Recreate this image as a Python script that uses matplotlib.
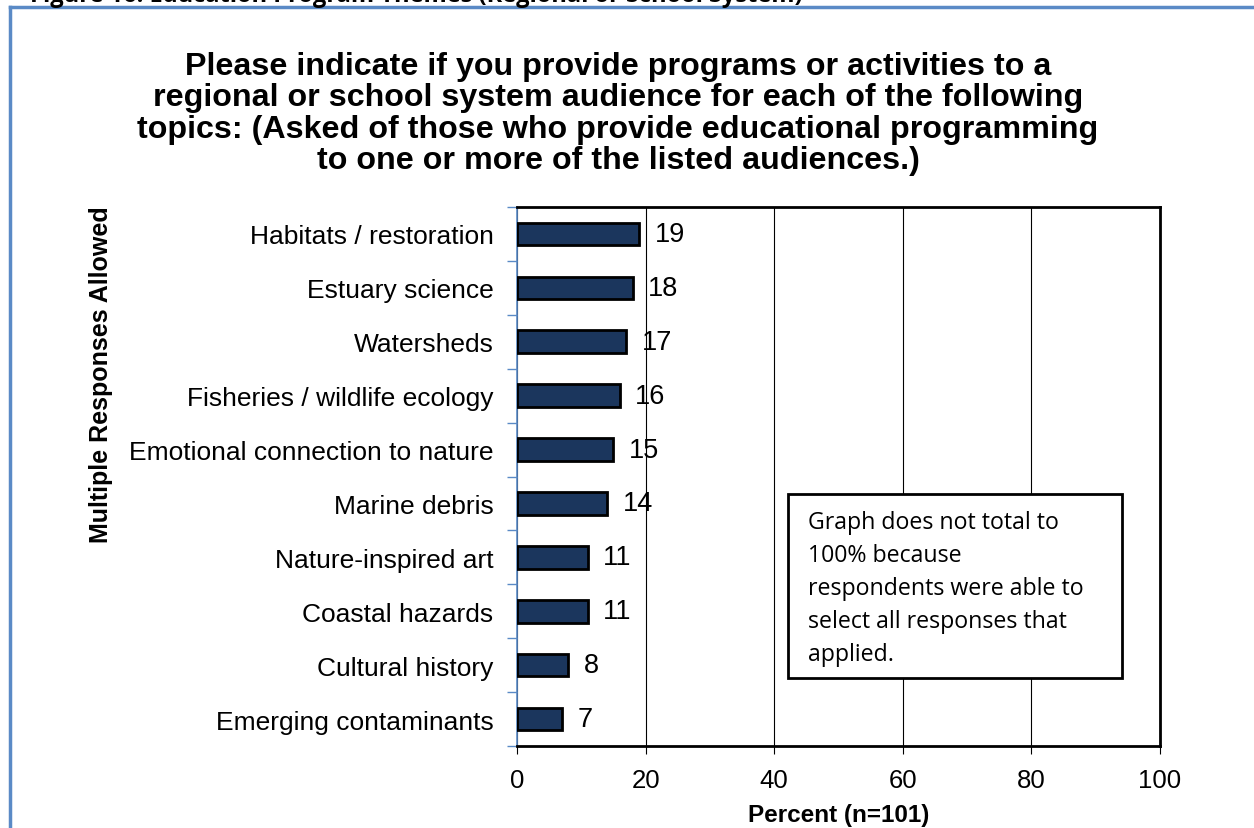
"""Education program topics, regional / school system audience (horizontal bar chart)."""

import matplotlib

matplotlib.use("Agg")
import matplotlib.pyplot as plt
from matplotlib.patches import Rectangle
from matplotlib.lines import Line2D

categories = [
    "Habitats / restoration",
    "Estuary science",
    "Watersheds",
    "Fisheries / wildlife ecology",
    "Emotional connection to nature",
    "Marine debris",
    "Nature-inspired art",
    "Coastal hazards",
    "Cultural history",
    "Emerging contaminants",
]
percents = [19, 18, 17, 16, 15, 14, 11, 11, 8, 7]
x_ticks = [0, 20, 40, 60, 80, 100]

title = ("Please indicate if you provide programs or activities to a\n"
         "regional or school system audience for each of the following\n"
         "topics: (Asked of those who provide educational programming\n"
         "to one or more of the listed audiences.)")
note = ("Graph does not total to\n100% because\nrespondents were able to\n"
        "select all responses that\napplied.")

plt.rcParams["font.family"] = ["Liberation Sans", "DejaVu Sans"]
BLUE = "#5A8AC6"
NAVY = "#1B365D"

fig = plt.figure(figsize=(12.54, 8.29), dpi=100)
ax = fig.add_axes([517 / 1254, 1 - 747 / 829, 643 / 1254, 539 / 829])

y = list(range(len(categories)))
ax.barh(y, percents, height=0.42, color=NAVY, edgecolor="black", linewidth=2, zorder=3)
for yi, v in zip(y, percents):
    ax.text(v + 2.4, yi, str(v), va="center", ha="left", fontsize=19.5, zorder=4)

ax.set_xlim(0, 100)
ax.set_ylim(len(categories) - 0.5, -0.5)
ax.set_xticks(x_ticks)
ax.set_xticklabels([str(t) for t in x_ticks], fontsize=18.5)
ax.tick_params(axis="x", length=6, width=0.8, pad=10, color="black")
ax.set_yticks(y)
ax.set_yticklabels(categories, fontsize=19)
ax.tick_params(axis="y", length=0, pad=17)
# blue minor ticks between categories, like the Excel category axis
ax.set_yticks([i - 0.5 for i in range(len(categories) + 1)], minor=True)
ax.tick_params(axis="y", which="minor", length=7, width=1, color=BLUE)
ax.xaxis.grid(True, color="black", linewidth=0.8, zorder=0)

for side in ["top", "right", "bottom"]:
    ax.spines[side].set_linewidth(2)
    ax.spines[side].set_color("black")
ax.spines["left"].set_color(BLUE)
ax.spines["left"].set_linewidth(1.2)

ax.set_xlabel("Percent (n=101)", fontsize=17.5, fontweight="bold", labelpad=8)
fig.text(101 / 1254, 1 - 375 / 829, "Multiple Responses Allowed", rotation=90,
         ha="center", va="center", fontsize=18, fontweight="bold")
fig.text(618 / 1254, 1 - 114 / 829, title, ha="center", va="center",
         fontsize=23.2, fontweight="bold", linespacing=1.07)

# note box
fig.patches.append(Rectangle((788 / 1254, 1 - 679 / 829), 334 / 1254, 184 / 829,
                             transform=fig.transFigure, facecolor="white",
                             edgecolor="black", linewidth=2, zorder=5))
fig.text(808 / 1254, 1 - 511 / 829, note, ha="left", va="top", fontsize=16.7,
         family=["Open Sans", "DejaVu Sans"], linespacing=1.5, zorder=6)

# page frame and the cut-off caption above it
fig.add_artist(Line2D([10 / 1254, 1], [1 - 8 / 829] * 2, color=BLUE, linewidth=2.5))
fig.add_artist(Line2D([10 / 1254] * 2, [0, 1 - 8 / 829], color=BLUE, linewidth=2.5))
fig.text(30 / 1254, 1 - 2 / 829, "Figure 16: Education Program Themes (Regional or School System)",
         ha="left", va="baseline", fontsize=17, fontweight="bold",
         family=["Open Sans", "DejaVu Sans"])

fig.savefig("out.png", dpi=100)
print("Wrote out.png")
